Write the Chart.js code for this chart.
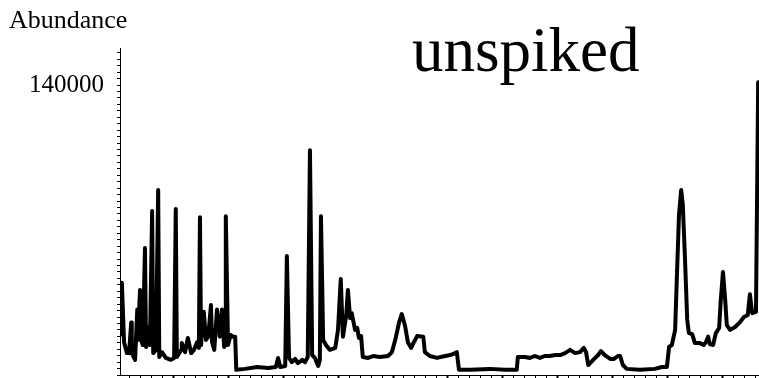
<!DOCTYPE html>
<html>
<head>
<meta charset="utf-8">
<script src="https://cdn.jsdelivr.net/npm/chart.js@4"></script>
<style>
  body { margin: 0; background: #fff; }
</style>
</head>
<body>
<canvas id="tic-chart" width="759" height="378"></canvas>
<script>
const ticChart = document.getElementById("tic-chart");

// retention time (min) and abundance
const retentionTime = [
    5.04, 5.07, 5.11, 5.16, 5.20, 5.24, 5.25, 5.31, 5.35, 5.36,
    5.40, 5.42, 5.45, 5.49, 5.51, 5.56, 5.58, 5.62, 5.64, 5.69,
    5.73, 5.75, 5.80, 5.87, 5.96, 6.02, 6.05, 6.07, 6.15, 6.16,
    6.22, 6.27, 6.33, 6.38, 6.44, 6.47, 6.49, 6.51, 6.53, 6.56,
    6.60, 6.64, 6.69, 6.71, 6.75, 6.80, 6.85, 6.89, 6.93, 6.95,
    6.96, 7.00, 7.05, 7.09, 7.13, 7.15,
    7.31, 7.53, 7.73, 7.87, 7.91, 7.95, 8.04, 8.07, 8.11, 8.16,
    8.22, 8.27, 8.35, 8.40, 8.45, 8.49, 8.53, 8.58, 8.64, 8.67,
    8.69, 8.73, 8.78, 8.85, 8.95, 9.00, 9.05, 9.09, 9.15, 9.18,
    9.22, 9.25, 9.31, 9.35, 9.38, 9.42, 9.45, 9.55, 9.64, 9.76,
    9.91, 9.98, 10.05, 10.11, 10.16, 10.22, 10.27, 10.33, 10.38, 10.44,
    10.55, 10.58, 10.67, 10.80, 10.95, 11.04, 11.13, 11.16, 11.20,
    11.40, 11.76, 12.04, 12.25, 12.27, 12.40, 12.49, 12.58, 12.67, 12.76,
    12.85, 12.95, 13.04, 13.13, 13.22, 13.31, 13.40, 13.47, 13.51, 13.55,
    13.64, 13.73, 13.78, 13.85, 13.95, 14.02, 14.09, 14.13, 14.18, 14.25,
    14.49, 14.76, 14.89, 14.98, 15.02, 15.07, 15.13, 15.16, 15.20, 15.24,
    15.27, 15.31, 15.35, 15.38, 15.44, 15.49, 15.58, 15.65, 15.69, 15.73,
    15.76, 15.82, 15.87, 15.93, 15.96, 16.00, 16.04, 16.07, 16.13, 16.22,
    16.31, 16.38, 16.45, 16.49, 16.53, 16.60, 16.64
];

const abundance = [
    62400, 78600, 60200, 56800, 56800, 66300, 56800, 54700, 70300, 60900,
    76400, 60900, 59300, 89400, 58700, 64900, 59300, 100900, 56800, 57800,
    107400, 55600, 57100, 55300, 54700, 55300, 101500, 55600, 57800, 59900,
    57100, 61500, 56800, 57800, 60200, 58400, 99000, 59300, 64000, 69600,
    60900, 61900, 71700, 60200, 57800, 70300, 61900, 70300, 58700, 59300,
    99300, 59300, 62400, 61900, 61900, 51600,
    51900, 52500, 52200, 52500, 55300, 52500, 52800, 86900, 55300, 54000,
    55000, 53700, 54700, 54000, 55600, 119800, 56200, 55300, 52800, 54700,
    99300, 60900, 59300, 57800, 58400, 64000, 79800, 61900, 68600, 76400,
    67700, 69200, 64000, 64600, 61500, 62100, 55600, 55300, 55900, 55600,
    55900, 57100, 61500, 66300, 68900, 65200, 60200, 58400, 60200, 62100,
    61900, 57100, 55900, 55300, 55900, 56200, 56800, 57100, 51600,
    51600, 51900, 51600, 51600, 55600, 55600, 55300, 55900, 55300, 55900,
    55900, 56200, 56200, 56800, 57800, 56800, 57100, 58400, 57100, 53100,
    54700, 56200, 57400, 56200, 55000, 55000, 55900, 55900, 53100, 51900,
    51600, 51900, 52500, 52500, 58700, 59300, 64000, 79500, 99700, 107400,
    102800, 85700, 67100, 63000, 62700, 59900, 59900, 59300, 60200, 61900,
    59600, 59300, 63000, 64600, 73300, 82000, 73300, 65500, 64000, 64900,
    66400, 68000, 68600, 75100, 69200, 69600, 140900
];

const yLabelValues = [140000];
const titleText = "unspiked";
const yTitle = "Abundance";

const serif = '"Liberation Serif", "Times New Roman", serif';

let textPlugin = {
    id: "textPlugin",
    afterDraw: (chart) => {
        const ctx = chart.ctx;
        ctx.save();
        ctx.fillStyle = "#000";
        ctx.textBaseline = "alphabetic";
        ctx.font = "26px " + serif;
        ctx.fillText(yTitle, 9, 28);
        ctx.font = "63px " + serif;
        ctx.fillText(titleText, 412, 71);
        ctx.restore();
    }
};

let ticConf = {
    type: "line",
    data: {
        datasets: [{
            data: retentionTime.map((t, i) => ({ x: t, y: abundance[i] })),
            borderColor: "#000",
            borderWidth: 4,
            borderJoinStyle: "round",
            borderCapStyle: "round",
            pointRadius: 0,
            tension: 0,
            fill: false
        }]
    },
    options: {
        responsive: false,
        animation: false,
        layout: { padding: { top: 48, left: 0, right: 0, bottom: 0 } },
        plugins: {
            legend: { display: false },
            tooltip: { enabled: false }
        },
        scales: {
            x: {
                type: "linear",
                min: 5.036,
                max: 16.655,
                afterBuildTicks: (scale) => {
                    let ticks = [];
                    for (let v = 52; v <= 166; v += 2) ticks.push({ value: v / 10 });
                    scale.ticks = ticks;
                },
                afterFit: (scale) => {
                    scale.height = 3;
                    scale.paddingLeft = 0;
                    scale.paddingRight = 0;
                },
                ticks: { display: false, autoSkip: false },
                border: { display: true, color: "#000", width: 1 },
                grid: {
                    drawOnChartArea: false,
                    drawTicks: true,
                    tickLength: 3,
                    tickColor: "#000",
                    tickWidth: (c) => (c.tick && Math.abs(c.tick.value - Math.round(c.tick.value)) < 0.01 ? 2 : 1)
                }
            },
            y: {
                type: "linear",
                min: 50000,
                max: 151500,
                afterBuildTicks: (scale) => {
                    let ticks = [];
                    for (let v = 50000; v <= 150000; v += 2000) ticks.push({ value: v });
                    scale.ticks = ticks;
                },
                afterFit: (scale) => {
                    scale.width = 120;
                    scale.paddingTop = 0;
                    scale.paddingBottom = 0;
                },
                ticks: {
                    autoSkip: false,
                    padding: 13,
                    color: "#000",
                    font: { family: serif, size: 25 },
                    callback: (value) => (yLabelValues.includes(value) ? String(value) : "")
                },
                border: { display: true, color: "#000", width: 1 },
                grid: {
                    drawOnChartArea: false,
                    drawTicks: true,
                    tickLength: 3,
                    tickColor: "#000"
                }
            }
        }
    },
    plugins: [textPlugin]
};

var ticPlot = new Chart(ticChart, ticConf);
</script>
</body>
</html>
